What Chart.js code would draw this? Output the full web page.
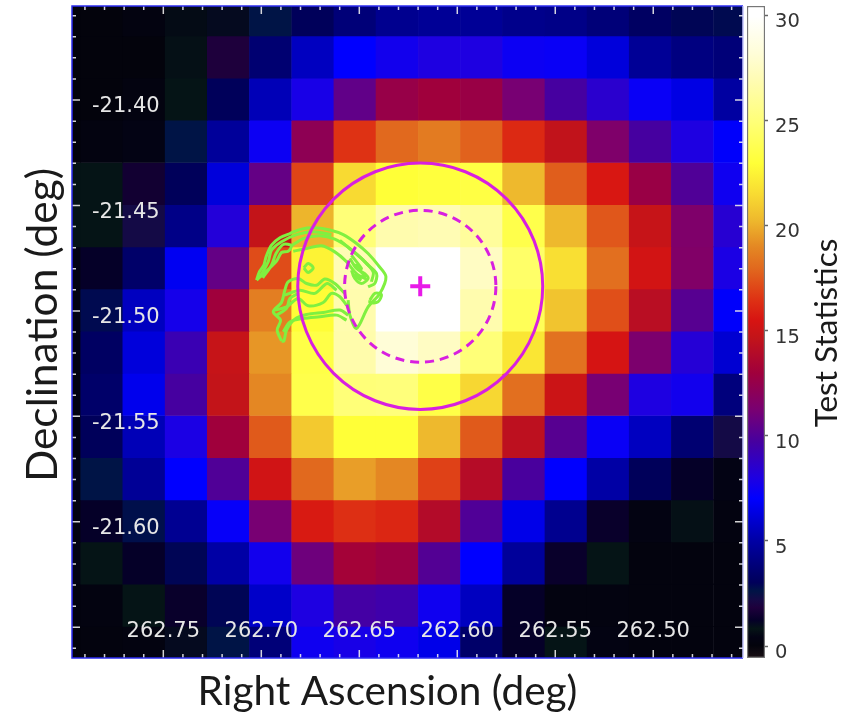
<!DOCTYPE html>
<html>
<head>
<meta charset="utf-8">
<title>Test Statistics map</title>
<script src="https://cdn.jsdelivr.net/npm/chart.js@4"></script>
<style>
  html, body { margin: 0; background: #fff; }
  #wrap { position: relative; width: 866px; height: 714px; overflow: hidden; }
  #map { position: absolute; left: 0; top: 0; }
  #bar { position: absolute; left: 746px; top: 0; }
</style>
</head>
<body>
<div id="wrap">
  <canvas id="map" width="866" height="714"></canvas>
  <canvas id="bar" width="70" height="714"></canvas>
</div>
<script>
"use strict";

// Pixel centres of the map, in degrees
const raCenters = [262.8029, 262.7814, 262.7599, 262.7383, 262.7168, 262.6953, 262.6737, 262.6522, 262.6307,
  262.6091, 262.5876, 262.5661, 262.5445, 262.5230, 262.5015, 262.4800, 262.4584];
const decCenters = [-21.3596, -21.3796, -21.3996, -21.4196, -21.4396, -21.4596, -21.4796, -21.4996,
  -21.5196, -21.5396, -21.5596, -21.5796, -21.5996, -21.6196, -21.6396, -21.6596];

// TS per map pixel, one row per declination
const tsRows = [
  [0, 0, 0.2, 0.6, 1.0, 2.6, 3.0, 3.8, 4.4, 4.6, 4.6, 4.3, 4.2, 3.8, 3.2, 2.9, 2.8],
  [0, 0, 0, 0.7, 1.8, 3.6, 5.6, 7.0, 7.6, 8.0, 8.0, 7.4, 7.3, 6.2, 4.6, 4.0, 3.8],
  [0, 0, 0.2, 0.8, 3.0, 5.4, 7.8, 10.5, 12.6, 13.0, 12.7, 11.2, 9.7, 8.5, 7.3, 6.4, 4.9],
  [0, 0.2, 0.4, 2.6, 4.7, 7.4, 12.2, 16.5, 18.0, 18.6, 17.8, 16.2, 14.6, 11.5, 9.7, 8.0, 6.9],
  [0.8, 0.8, 1.5, 3.0, 6.2, 10.6, 17.0, 21.5, 23.0, 23.2, 23.4, 20.3, 17.7, 15.6, 12.7, 10.0, 7.5],
  [0.8, 0.8, 2.2, 4.2, 8.2, 14.7, 20.2, 25.0, 26.8, 27.0, 26.2, 23.6, 20.3, 17.5, 14.8, 11.5, 8.4],
  [0.3, 1.2, 3.4, 6.7, 10.6, 17.2, 22.5, 27.0, 30.0, 30.0, 27.5, 24.5, 21.7, 18.2, 15.3, 11.6, 7.9],
  [0.3, 2.8, 5.6, 7.7, 13.0, 18.7, 22.9, 26.8, 30.0, 30.0, 26.8, 24.0, 20.7, 17.3, 14.2, 10.2, 6.9],
  [0.3, 3.2, 6.2, 9.2, 14.8, 19.4, 23.5, 26.7, 28.2, 27.5, 25.0, 22.0, 18.3, 15.4, 11.4, 8.3, 6.0],
  [0.2, 3.4, 6.6, 9.7, 14.7, 19.0, 23.6, 25.0, 25.1, 23.5, 21.4, 18.2, 15.0, 11.2, 8.0, 7.6, 3.9],
  [0.2, 3.0, 5.4, 7.9, 13.0, 17.6, 20.9, 23.0, 23.0, 20.3, 17.6, 14.4, 10.2, 7.3, 5.6, 3.6, 2.2],
  [0.4, 2.6, 4.6, 7.0, 10.0, 15.2, 18.0, 19.6, 19.0, 16.9, 14.0, 9.8, 7.0, 5.0, 3.0, 1.2, 0.4],
  [0.2, 1.2, 2.7, 4.5, 7.2, 11.2, 15.7, 16.4, 16.1, 13.9, 10.0, 6.5, 4.4, 1.3, 0.3, 0.7, 0.2],
  [0.4, 0.8, 1.2, 2.9, 5.0, 7.6, 10.9, 13.2, 12.8, 10.1, 7.0, 4.7, 1.3, 0.8, 0.1, 0.1, 0.1],
  [0.1, 0.2, 0.8, 1.3, 2.9, 5.8, 8.0, 9.6, 9.4, 7.5, 5.6, 1.2, 0.2, 0.2, 0.1, 0.1, 0.1],
  [0, 0.1, 0.2, 1.0, 2.6, 3.8, 7.5, 7.8, 7.5, 6.5, 3.4, 1.2, 0.8, 0.3, 0.1, 0.1, 0.1],
];

// Tick labels
const raTicks = [262.75, 262.70, 262.65, 262.60, 262.55, 262.50];
const decTicks = [-21.40, -21.45, -21.50, -21.55, -21.60, -21.65];
const decLabelled = [-21.40, -21.45, -21.50, -21.55, -21.60];
const tsTicks = [0, 5, 10, 15, 20, 25, 30];

// Colour scale
const colorValues = [-0.6, 0, 0.4, 0.8, 1.2, 1.8, 2.2, 2.6, 3, 5, 7, 8, 9.7, 11.2, 13, 14.7, 15.5, 16.5, 18, 19, 20.3, 21.5, 23, 25, 27, 28.2, 30, 30.5];
const colorRgb = [[25, 15, 20], [3, 3, 12], [3, 3, 20], [5, 20, 22], [5, 0, 40], [30, 0, 60], [20, 10, 70], [0, 20, 70], [0, 0, 90],
  [0, 0, 165], [0, 0, 255], [30, 0, 225], [70, 0, 160], [120, 0, 115], [160, 0, 60], [195, 20, 25], [215, 20, 18], [222, 50, 20],
  [225, 105, 30], [228, 135, 35], [238, 185, 45], [248, 218, 50], [255, 255, 55], [255, 255, 120], [255, 252, 180], [255, 253, 215],
  [255, 255, 255], [255, 255, 255]];

// Best-fit position and its two error circles (RA, Dec, radius in RA, radius in Dec)
const bestFit = [262.6189, -21.4883];
const outerCircle = [262.6189, -21.4883, 0.0625, 0.0584];
const innerCircle = [262.6189, -21.4883, 0.0386, 0.0360];

// Green contours, [RA, Dec]
const contours = [
  [[262.7024, -21.4854], [262.7010, -21.4815], [262.6987, -21.4783], [262.6976, -21.4744], [262.6948, -21.4688], [262.6905, -21.4653],
   [262.6854, -21.4633], [262.6795, -21.4612], [262.6727, -21.4606], [262.6650, -21.4616], [262.6582, -21.4638], [262.6514, -21.4680],
   [262.6455, -21.4728], [262.6404, -21.4783], [262.6364, -21.4838], [262.6395, -21.4917], [262.6455, -21.4981], [262.6514, -21.5083],
   [262.6548, -21.5020], [262.6557, -21.4949]],
  [[262.6897, -21.5143], [262.6919, -21.5091], [262.6902, -21.5044], [262.6939, -21.5004], [262.6897, -21.4960], [262.6880, -21.4902],
   [262.6863, -21.4862], [262.6812, -21.4846], [262.6769, -21.4870], [262.6718, -21.4878], [262.6676, -21.4849], [262.6625, -21.4870],
   [262.6574, -21.4917]],
  [[262.6897, -21.5143], [262.6885, -21.5143], [262.6871, -21.5091], [262.6829, -21.5039], [262.6769, -21.5017], [262.6684, -21.5007],
   [262.6599, -21.4996], [262.6557, -21.5020]],
  [[262.6931, -21.4996], [262.6871, -21.4981], [262.6812, -21.4941], [262.6761, -21.4976], [262.6684, -21.4960], [262.6642, -21.4917],
   [262.6599, -21.4933], [262.6565, -21.4973]],
  [[262.6880, -21.4925], [262.6803, -21.4902], [262.6727, -21.4917], [262.6664, -21.4870], [262.6616, -21.4902]],
  [[262.6993, -21.4843], [262.6948, -21.4783], [262.6925, -21.4728], [262.6888, -21.4685], [262.6846, -21.4691], [262.6863, -21.4717],
   [262.6897, -21.4723], [262.6925, -21.4767], [262.7024, -21.4854]],
  [[262.6846, -21.4691], [262.6786, -21.4657], [262.6701, -21.4644], [262.6625, -21.4660], [262.6548, -21.4704], [262.6480, -21.4759],
   [262.6429, -21.4815], [262.6438, -21.4862]],
  [[262.6837, -21.4717], [262.6769, -21.4704], [262.6693, -21.4691], [262.6625, -21.4720], [262.6565, -21.4767], [262.6514, -21.4823],
   [262.6455, -21.4854]],
  [[262.6540, -21.4736], [262.6489, -21.4799], [262.6523, -21.4783], [262.6472, -21.4838], [262.6531, -21.4830], [262.6489, -21.4854]],
  [[262.6446, -21.4949], [262.6421, -21.4917], [262.6387, -21.4922], [262.6404, -21.4957], [262.6446, -21.4960], [262.6446, -21.4949]],
  [[262.6783, -21.4796], [262.6761, -21.4775], [262.6735, -21.4796], [262.6761, -21.4818], [262.6783, -21.4796]],
  [[262.6599, -21.4665], [262.6540, -21.4712], [262.6489, -21.4751], [262.6455, -21.4783], [262.6412, -21.4823], [262.6421, -21.4870], [262.6455, -21.4886]],
  [[262.6548, -21.4751], [262.6514, -21.4799], [262.6472, -21.4823], [262.6455, -21.4846], [262.6489, -21.4870], [262.6523, -21.4846], [262.6540, -21.4807]],
  [[262.6922, -21.5020], [262.6871, -21.4988], [262.6854, -21.4941], [262.6812, -21.4917]],
  [[262.6888, -21.5099], [262.6854, -21.5052], [262.6786, -21.5036], [262.6701, -21.5028], [262.6616, -21.5020], [262.6565, -21.5044]],
  [[262.7007, -21.4838], [262.6965, -21.4767], [262.6948, -21.4712], [262.6897, -21.4672], [262.6820, -21.4638], [262.6735, -21.4625], [262.6642, -21.4638]],
];

const raRange = [262.4542, 262.7966];
const decRange = [-21.6646, -21.3554];
const tsRange = [-0.57, 30.43];

const MAGENTA = "#d81fe0";

function tsColor(value) {
  let i = 1;
  while (i < colorValues.length - 1 && value > colorValues[i]) i++;
  const t = Math.min(1, Math.max(0, (value - colorValues[i - 1]) / (colorValues[i] - colorValues[i - 1])));
  const rgb = colorRgb[i].map((c, k) => Math.round(colorRgb[i - 1][k] + (c - colorRgb[i - 1][k]) * t));
  return `rgb(${rgb[0]},${rgb[1]},${rgb[2]})`;
}

// one bar dataset per map row
const cellDatasets = decCenters.map((dec, r) => ({
  type: "bar",
  order: 10,
  grouped: false,
  clip: 0,
  barPercentage: 1,
  categoryPercentage: 1,
  borderWidth: 0,
  data: raCenters.map((ra) => ({ x: ra, y: [dec - 0.01, dec + 0.01] })),
  backgroundColor: tsRows[r].map(tsColor),
}));

const contourDatasets = contours.map((line) => ({
  type: "scatter",
  order: 3,
  showLine: true,
  tension: 0.3,
  borderColor: "#80f040",
  borderWidth: 3,
  pointRadius: 0,
  data: line.map((p) => ({ x: p[0], y: p[1] })),
}));

const bestFitDataset = {
  type: "scatter",
  order: 1,
  pointStyle: "cross",
  pointRadius: 10,
  pointBorderWidth: 4,
  pointBorderColor: "#e81ae8",
  data: [{ x: bestFit[0], y: bestFit[1] }],
};

// inward ticks on all four sides, the frame and the error circles
const overlay = {
  id: "overlay",
  afterDatasetsDraw(chart) {
    const { ctx, chartArea: a, scales: { x, y } } = chart;
    ctx.save();

    [[outerCircle, []], [innerCircle, [9, 6]]].forEach(([c, dash]) => {
      const cx = x.getPixelForValue(c[0]);
      const cy = y.getPixelForValue(c[1]);
      const rx = Math.abs(x.getPixelForValue(c[0] + c[2]) - cx);
      const ry = Math.abs(y.getPixelForValue(c[1] + c[3]) - cy);
      ctx.beginPath();
      ctx.setLineDash(dash);
      ctx.lineWidth = 3;
      ctx.strokeStyle = MAGENTA;
      ctx.ellipse(cx, cy, rx, ry, 0, 0, Math.PI * 2);
      ctx.stroke();
    });
    ctx.setLineDash([]);

    ctx.strokeStyle = "rgba(235,235,235,0.9)";
    ctx.lineWidth = 1.5;
    for (let i = 26246; i <= 26279; i++) {
      const len = i % 5 === 0 ? 8 : 4;
      const px = x.getPixelForValue(i / 100);
      ctx.beginPath();
      ctx.moveTo(px, a.top); ctx.lineTo(px, a.top + len);
      ctx.moveTo(px, a.bottom); ctx.lineTo(px, a.bottom - len);
      ctx.stroke();
    }
    for (let i = -2166; i <= -2136; i++) {
      const len = i % 5 === 0 ? 8 : 4;
      const py = y.getPixelForValue(i / 100);
      ctx.beginPath();
      ctx.moveTo(a.left, py); ctx.lineTo(a.left + len, py);
      ctx.moveTo(a.right, py); ctx.lineTo(a.right - len, py);
      ctx.stroke();
    }

    ctx.lineWidth = 1.5;
    ctx.strokeStyle = "#2c2cf0";
    ctx.beginPath();
    ctx.moveTo(a.right, a.top); ctx.lineTo(a.left, a.top); ctx.lineTo(a.left, a.bottom); ctx.lineTo(a.right, a.bottom);
    ctx.stroke();
    ctx.strokeStyle = "#c4c4ff";
    ctx.beginPath();
    ctx.moveTo(a.right, a.top); ctx.lineTo(a.right, a.bottom);
    ctx.stroke();
    ctx.restore();
  },
  afterDraw(chart) {
    const { ctx } = chart;
    const titles = [
      ["Right Ascension (deg)", 387.5, 692, 0, 40.5],
      ["Declination (deg)", 43, 325, -Math.PI / 2, 42.5],
      ["Test Statistics", 827, 333, -Math.PI / 2, 31.5],
    ];
    ctx.save();
    ctx.fillStyle = "#1a1a1a";
    ctx.textAlign = "center";
    ctx.textBaseline = "middle";
    titles.forEach(([text, tx, ty, rot, size]) => {
      ctx.save();
      ctx.translate(tx, ty);
      ctx.rotate(rot);
      ctx.font = `${size}px Lato`;
      ctx.fillText(text, 0, 0);
      ctx.restore();
    });
    ctx.restore();
  },
};

new Chart(document.getElementById("map").getContext("2d"), {
  type: "bar",
  data: { datasets: [...cellDatasets, ...contourDatasets, bestFitDataset] },
  plugins: [overlay],
  options: {
    responsive: false,
    animation: false,
    events: [],
    layout: { autoPadding: false, padding: { top: 6, right: 123, left: 0, bottom: 0 } },
    plugins: { legend: { display: false }, tooltip: { enabled: false } },
    scales: {
      x: {
        type: "linear",
        reverse: true,
        offset: false,
        min: raRange[0],
        max: raRange[1],
        grid: { display: false },
        border: { display: false },
        afterBuildTicks: (s) => { s.ticks = raTicks.map((v) => ({ value: v })); },
        afterFit: (s) => { s.height = 56; s.paddingLeft = 0; s.paddingRight = 0; },
        ticks: {
          mirror: true,
          padding: 14,
          z: 1,
          maxRotation: 0,
          autoSkip: false,
          color: "#e6e6e6",
          font: { family: "DejaVu Sans", size: 21 },
          callback: (v) => v.toFixed(2),
        },
      },
      y: {
        type: "linear",
        min: decRange[0],
        max: decRange[1],
        grid: { display: false },
        border: { display: false },
        afterBuildTicks: (s) => { s.ticks = decTicks.map((v) => ({ value: v })); },
        afterFit: (s) => { s.width = 72; s.paddingTop = 0; s.paddingBottom = 0; },
        ticks: {
          mirror: true,
          padding: 20,
          labelOffset: 7,
          z: 1,
          autoSkip: false,
          color: "#e6e6e6",
          font: { family: "DejaVu Sans", size: 21 },
          callback: (v) => (decLabelled.includes(v) ? v.toFixed(2) : ""),
        },
      },
    },
  },
});

// colour bar: one floating bar painted with the colour scale
function barGradient(context) {
  const { ctx, scales } = context.chart;
  const top = scales.y ? scales.y.getPixelForValue(tsRange[1]) : NaN;
  const bottom = scales.y ? scales.y.getPixelForValue(tsRange[0]) : NaN;
  if (!Number.isFinite(top) || !Number.isFinite(bottom)) return "#000";
  const g = ctx.createLinearGradient(0, bottom, 0, top);
  colorValues.forEach((v) => {
    const t = (v - colorValues[0]) / (colorValues[colorValues.length - 1] - colorValues[0]);
    g.addColorStop(t, tsColor(v));
  });
  return g;
}

new Chart(document.getElementById("bar").getContext("2d"), {
  type: "bar",
  data: {
    labels: ["TS"],
    datasets: [{
      data: [tsRange],
      backgroundColor: barGradient,
      borderColor: "#777",
      borderWidth: 1.5,
      borderSkipped: false,
      barPercentage: 1,
      categoryPercentage: 1,
    }],
  },
  options: {
    responsive: false,
    animation: false,
    events: [],
    layout: { autoPadding: false, padding: { top: 6, left: 1, right: 0, bottom: 56 } },
    plugins: { legend: { display: false }, tooltip: { enabled: false } },
    scales: {
      x: { display: false },
      y: {
        position: "right",
        min: tsRange[0],
        max: tsRange[1],
        grid: { drawOnChartArea: false, tickLength: 3, tickColor: "#666", tickWidth: 1.5 },
        border: { display: false },
        afterBuildTicks: (s) => { s.ticks = tsTicks.map((v) => ({ value: v })); },
        afterFit: (s) => { s.width = 51; s.paddingTop = 0; s.paddingBottom = 0; },
        ticks: {
          padding: 7,
          labelOffset: 7,
          color: "#333",
          autoSkip: false,
          font: { family: "DejaVu Sans", size: 19.5 },
        },
      },
    },
  },
});
</script>
</body>
</html>
